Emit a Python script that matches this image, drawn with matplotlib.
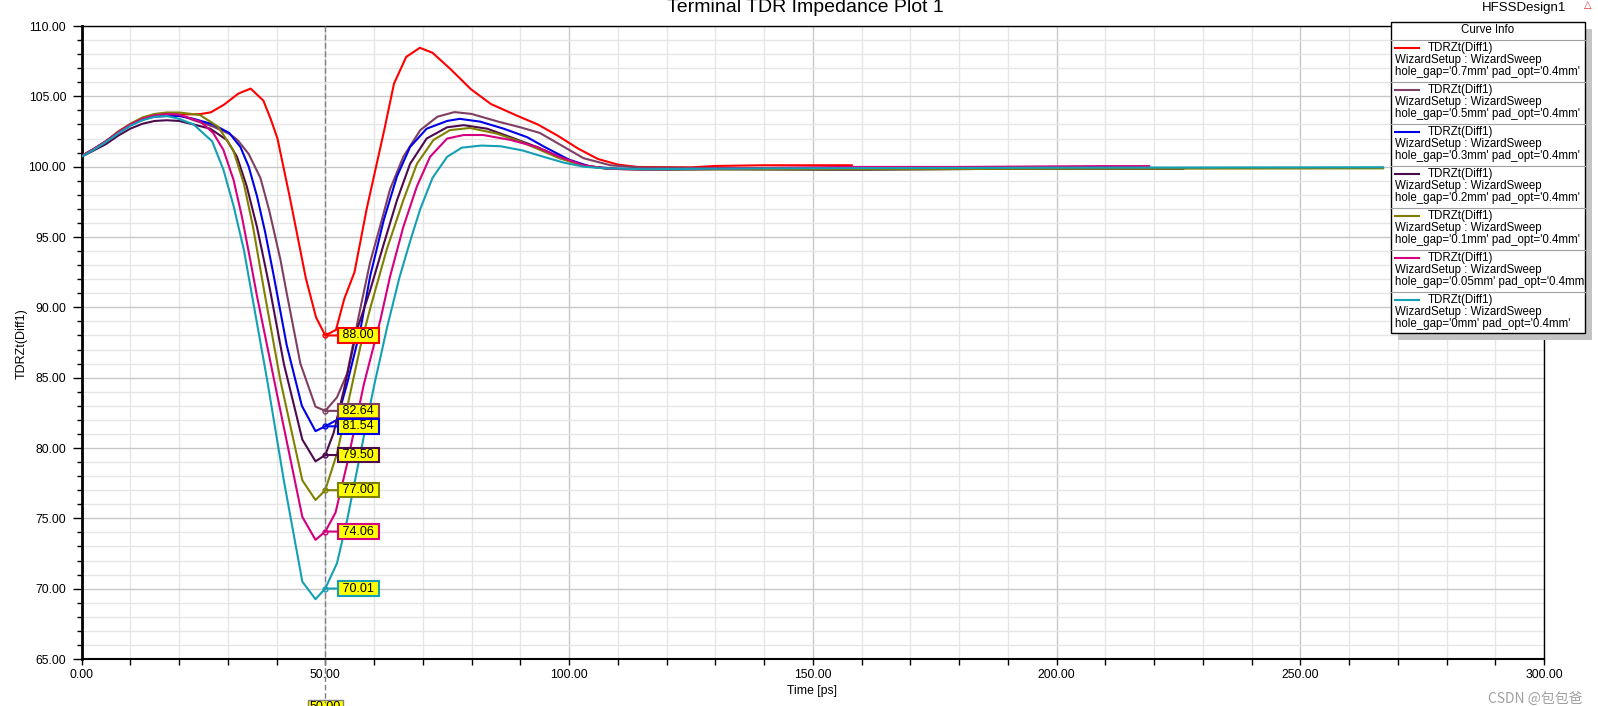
import matplotlib
matplotlib.use("Agg")
import matplotlib.pyplot as plt
from matplotlib.patches import Rectangle
from matplotlib.ticker import MultipleLocator, FormatStrFormatter
import numpy as np

plt.rcParams['font.family'] = ['Liberation Sans', 'DejaVu Sans']

# curve data (time in ps, impedance in ohm)
t_07 = [0, 2.5, 5, 7.5, 10, 12.5, 15, 17.5, 20, 24.4, 26.5, 29.2, 32.2, 34.7, 37.3, 38.8, 40.2,
        42.8, 46.0, 48.1, 50, 52.2, 53.9, 56, 58.5, 62.1, 64.1, 66.6, 69.4, 72, 75.8, 79.9, 84,
        89.5, 93.6, 97.7, 101.8, 105.9, 110, 114, 125, 130, 140, 158]
z_07 = [100.75, 101.25, 101.8, 102.45, 103.0, 103.4, 103.6, 103.7, 103.7, 103.74, 103.86, 104.4,
        105.2, 105.55, 104.7, 103.4, 102.0, 97.7, 92.1, 89.3, 88.0, 88.4, 90.6, 92.5, 97.0, 102.6,
        105.9, 107.8, 108.45, 108.1, 106.9, 105.5, 104.45, 103.6, 103.0, 102.2, 101.3, 100.55,
        100.15, 99.98, 99.95, 100.05, 100.1, 100.1]

t_05 = [0, 2.5, 5, 7.5, 10, 12.5, 15, 17.5, 20, 23, 27, 30.5, 32, 34.3, 36.7, 38.5, 40.8, 42.1,
        44.9, 48, 50, 52.4, 54.5, 57, 59.2, 61.2, 63.3, 66, 69.5, 73, 76.5, 80, 85.5, 90, 94,
        97.5, 103, 108.5, 114, 130, 160]
z_05 = [100.75, 101.25, 101.8, 102.45, 103.0, 103.45, 103.7, 103.8, 103.7, 103.3, 102.85, 102.3,
        101.9, 100.9, 99.2, 96.9, 93.4, 91.0, 86.0, 82.94, 82.64, 83.6, 85.3, 89.6, 93.2, 95.7,
        98.4, 100.7, 102.6, 103.55, 103.88, 103.75, 103.2, 102.8, 102.4, 101.7, 100.6, 100.1,
        99.95, 99.9, 99.9]

t_03 = [0, 2.5, 5, 7.5, 10, 12.5, 15, 17.5, 20, 23, 27, 30.3, 32.6, 34.3, 36, 37.7, 39.4, 42.1,
        45.2, 48, 50, 52.4, 54.5, 57.2, 59.2, 62, 64.7, 67.4, 70.8, 75, 77.6, 81.8, 86.6, 91.4,
        95, 100, 104.4, 110, 120, 134]
z_03 = [100.75, 101.25, 101.8, 102.4, 102.95, 103.35, 103.55, 103.6, 103.6, 103.4, 103.0, 102.4,
        101.4, 100.0, 97.9, 95.3, 92.3, 87.3, 83.0, 81.2, 81.54, 82.0, 84.6, 88.4, 92.2, 96.2,
        99.3, 101.4, 102.7, 103.25, 103.4, 103.2, 102.7, 102.1, 101.4, 100.5, 100.0, 99.85, 99.8,
        99.85]

t_02 = [0, 2.5, 5, 7.5, 10, 12.5, 15, 17.5, 20, 23, 26.4, 29.8, 31.9, 33.9, 36, 37.7, 38.7, 41.5,
        45.3, 48, 50, 51.7, 53.8, 56.5, 59.2, 62, 64.7, 67.4, 70.8, 75, 78.4, 83.2, 88, 93.4, 98,
        103, 108, 115, 130, 153, 160, 190, 226]
z_02 = [100.7, 101.15, 101.6, 102.2, 102.7, 103.05, 103.25, 103.3, 103.25, 103.0, 102.7, 101.9,
        100.7, 98.6, 95.7, 92.9, 91.2, 86.0, 80.6, 79.05, 79.5, 81.05, 84.1, 88.4, 91.2, 94.5,
        97.6, 100.2, 102.0, 102.8, 102.95, 102.7, 102.1, 101.4, 100.7, 100.1, 99.85, 99.8, 99.82,
        99.78, 99.78, 99.85, 99.85]

t_01 = [0, 2.5, 5, 7.5, 10, 12.5, 15, 17.5, 20, 22.5, 24.3, 28, 31.1, 33.3, 35.2, 37.3, 40.8,
        45.3, 48, 50, 52.4, 54.5, 57.2, 59.2, 62.6, 66, 68.8, 72.2, 75.6, 79.7, 85.2, 89.9, 94,
        98, 103, 108, 115, 175, 190, 267]
z_01 = [100.75, 101.25, 101.8, 102.5, 103.05, 103.5, 103.75, 103.85, 103.85, 103.75, 103.67,
        102.85, 101.2, 98.8, 95.7, 91.5, 84.8, 77.7, 76.3, 77.0, 79.6, 82.9, 87.2, 89.9, 94.1,
        97.6, 100.2, 101.9, 102.6, 102.75, 102.35, 101.8, 101.2, 100.6, 100.05, 99.85, 99.8,
        99.82, 99.85, 99.88]

t_005 = [0, 2.5, 5, 7.5, 10, 12.5, 15, 17.5, 20, 24.4, 27, 29.1, 31.2, 32.9, 34.6, 36, 40, 45.3,
         48, 50, 52.1, 54.5, 57.9, 61.3, 63.3, 66, 68.8, 71.5, 75, 78.4, 82.4, 88, 93.4, 98, 103,
         108, 115, 157, 180, 209, 219]
z_005 = [100.75, 101.25, 101.8, 102.45, 103.0, 103.4, 103.65, 103.75, 103.7, 103.2, 102.4, 101.2,
         99.05, 96.45, 93.4, 90.8, 84.0, 75.1, 73.47, 74.06, 75.4, 78.9, 84.5, 89.1, 92.2, 95.7,
         98.6, 100.7, 102.0, 102.25, 102.25, 101.9, 101.4, 100.7, 100.1, 99.85, 99.8, 99.98,
         99.98, 100.04, 100.04]

t_00 = [0, 2.5, 5, 7.5, 10, 12.5, 15, 17.5, 20, 23, 26.8, 29.1, 31.2, 33.3, 35, 38.1, 41.5, 45.3,
        48, 50, 52.4, 54.5, 57.2, 60, 62.7, 65.2, 67.5, 69.5, 72, 75, 78, 82, 86, 90.5, 94.8, 99,
        103, 107, 115, 140, 200, 267]
z_00 = [100.7, 101.2, 101.75, 102.35, 102.9, 103.3, 103.55, 103.6, 103.4, 103.0, 101.8, 99.8,
        97.2, 94.1, 90.8, 84.8, 77.7, 70.5, 69.25, 70.01, 71.8, 74.9, 79.6, 84.4, 88.6, 92.1, 94.8,
        97.0, 99.2, 100.7, 101.35, 101.5, 101.45, 101.15, 100.7, 100.28, 100.0, 99.89, 99.82,
        99.88, 99.93, 99.96]

times = [t_07, t_05, t_03, t_02, t_01, t_005, t_00]
values = [z_07, z_05, z_03, z_02, z_01, z_005, z_00]
hole_gaps = ['0.7mm', '0.5mm', '0.3mm', '0.2mm', '0.1mm', '0.05mm', '0mm']
colors = ['#ff0000', '#7f3f62', '#0000e6', '#4d0a4d', '#808000', '#d4007f', '#14a0b4']

marker_t = 50
marker_vals = [88.00, 82.64, 81.54, 79.50, 77.00, 74.06, 70.01]

fig = plt.figure(figsize=(15.98, 7.06), dpi=100)
ax = fig.add_axes([81.5 / 1598, 1 - 659 / 706, 1462.5 / 1598, 633 / 706])

for t, z, c in zip(times, values, colors):
    ax.plot(t, z, color=c, lw=1.5, zorder=3)

ax.set_xlim(0, 300)
ax.set_ylim(65, 110)
ax.xaxis.set_major_locator(MultipleLocator(50))
ax.xaxis.set_minor_locator(MultipleLocator(10))
ax.yaxis.set_major_locator(MultipleLocator(5))
ax.yaxis.set_minor_locator(MultipleLocator(1))
ax.xaxis.set_major_formatter(FormatStrFormatter('%.2f'))
ax.yaxis.set_major_formatter(FormatStrFormatter('%.2f'))
ax.grid(which='major', color='#c8c8c8', lw=1)
ax.grid(which='minor', color='#e6e6e6', lw=1)
ax.set_axisbelow(True)
ax.tick_params(axis='y', which='major', length=6.5, width=1, pad=4.5, labelsize=8.8)
ax.tick_params(axis='y', which='minor', length=3.6, width=1)
ax.tick_params(axis='x', which='both', length=4, width=1, pad=3, labelsize=8.8)
for s in ax.spines.values():
    s.set_linewidth(1)
    s.set_color('black')
ax.spines['left'].set_linewidth(2)
ax.spines['bottom'].set_linewidth(1.5)

ax.set_xlabel('Time [ps]', fontsize=8.8)
ax.set_ylabel('TDRZt(Diff1)', fontsize=9)
ax.xaxis.set_label_coords(0.4995, -0.041)
ax.yaxis.set_label_coords(-0.0366, 0.4976)

# marker line at t = 50
xt = ax.get_xaxis_transform()
ax.plot([marker_t, marker_t], [1, -0.07], transform=xt, clip_on=False,
        color='#808080', lw=1, ls=(0, (4, 2)), zorder=4)
ax.text(marker_t, -0.067, '%.2f' % marker_t, transform=xt, ha='center', va='top',
        fontsize=9, clip_on=False,
        bbox=dict(boxstyle='square,pad=0.15', fc='yellow', ec='#808080', lw=1))

for v, c in zip(marker_vals, colors):
    ax.plot(marker_t, v, marker='o', ms=3.5, mfc='none', mec=c, mew=1, zorder=5)
    ax.annotate(' %.2f ' % v, xy=(marker_t, v), xytext=(14, 0), textcoords='offset pixels',
                ha='left', va='center', fontsize=9, zorder=6,
                bbox=dict(boxstyle='square,pad=0.1', fc='yellow', ec=c, lw=1.5),
                arrowprops=dict(arrowstyle='-', color=c, lw=1.5, shrinkA=0, shrinkB=0))

# overlay in pixel coordinates for title, legend and other texts
ov = fig.add_axes([0, 0, 1, 1])
ov.set_xlim(0, 1598)
ov.set_ylim(706, 0)
ov.axis('off')
ov.set_zorder(10)

ov.text(805, 12, 'Terminal TDR Impedance Plot 1', ha='center', va='baseline', fontsize=14)
ov.text(1482, 10.5, 'HFSSDesign1', ha='left', va='baseline', fontsize=9.5)
ov.text(1588, 5, '\u25b3', ha='center', va='center', fontsize=7, color='#e03030')

# legend box
lx0, lx1, ly0, ly1 = 1391, 1585, 22, 333
ov.add_patch(Rectangle((lx0 + 7, ly0 + 7), lx1 - lx0, ly1 - ly0, fc='#c4c4c4', ec='none'))
ov.add_patch(Rectangle((lx0, ly0), lx1 - lx0, ly1 - ly0, fc='white', ec='black', lw=1))
ov.text((lx0 + lx1) / 2, 30, 'Curve Info', ha='center', va='center', fontsize=8.3)
ov.plot([lx0, lx1], [39.5, 39.5], color='#a0a0a0', lw=0.8)
for i, (hg, c) in enumerate(zip(hole_gaps, colors)):
    y0 = 39.5 + 42 * i
    ov.plot([1395, 1419], [y0 + 8, y0 + 8], color=c, lw=1.5)
    ov.text(1428, y0 + 8.5, 'TDRZt(Diff1)', ha='left', va='center', fontsize=8.3)
    ov.text(1395, y0 + 21, 'WizardSetup : WizardSweep', ha='left', va='center', fontsize=8.3)
    ov.text(1395, y0 + 32.5, "hole_gap='%s' pad_opt='0.4mm'" % hg, ha='left', va='center',
            fontsize=8.3)
    if i < len(hole_gaps) - 1:
        ov.plot([lx0, lx1], [y0 + 42, y0 + 42], color='#a0a0a0', lw=0.8)

ov.text(1582, 700, 'CSDN @包包爸', ha='right', va='center', fontsize=10, color='#a0a0a0',
        family=['Noto Sans CJK SC', 'DejaVu Sans'])

fig.savefig('out.png', dpi=100)
